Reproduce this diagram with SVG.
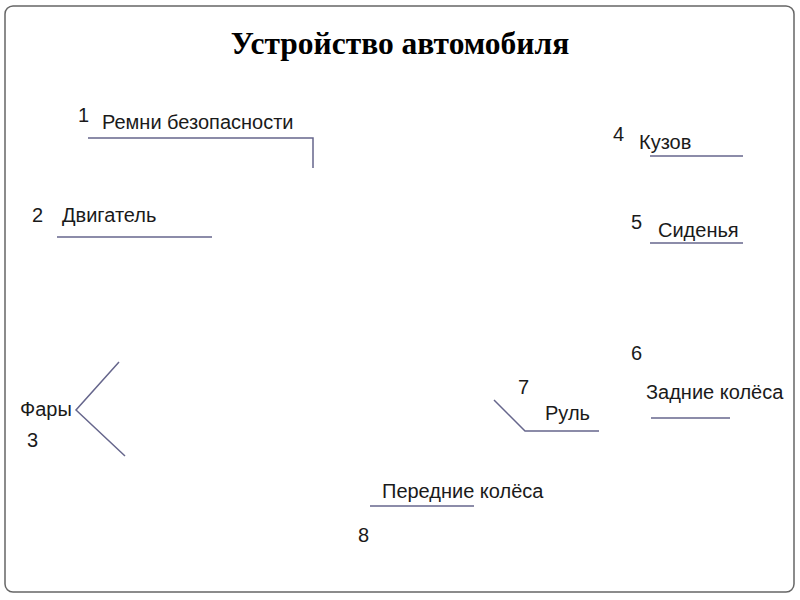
<svg xmlns="http://www.w3.org/2000/svg" width="800" height="600" viewBox="0 0 800 600">
<style>
.t{font-family:"Liberation Sans",Arial,sans-serif;font-size:20px;fill:#1a1a1a}
.n{font-family:"Liberation Sans",Arial,sans-serif;font-size:20px;fill:#1a1a1a}
.ttl{font-family:"Liberation Serif","Times New Roman",serif;font-size:31.5px;font-weight:bold;fill:#000}
.ln{fill:none;stroke:#66668c;stroke-width:1.5}
</style>
<rect x="5" y="6" width="789" height="586" rx="8" ry="8" fill="#fff" stroke="#666" stroke-width="1.5"/>
<text class="ttl" x="400" y="54" text-anchor="middle">Устройство автомобиля</text>
<g id="connectors">
<polyline class="ln" points="88,138 313,138 313,168"/>
<line class="ln" x1="57" y1="237" x2="212" y2="237"/>
<line class="ln" x1="650" y1="156" x2="743" y2="156"/>
<line class="ln" x1="650" y1="243" x2="743" y2="243"/>
<line class="ln" x1="651" y1="418" x2="730" y2="418"/>
<polyline class="ln" points="494,400 525,431 599,431"/>
<polyline class="ln" points="119,362 76,410 125,456"/>
<line class="ln" x1="370" y1="506" x2="474" y2="506"/>
</g>
<g id="node1"><text class="n" x="78" y="122">1</text><text class="t" x="102" y="129">Ремни безопасности</text></g>
<g id="node2"><text class="n" x="32" y="222">2</text><text class="t" x="62" y="222">Двигатель</text></g>
<g id="node3"><text class="t" x="20" y="416">Фары</text><text class="n" x="27" y="447">3</text></g>
<g id="node4"><text class="n" x="613" y="141">4</text><text class="t" x="639" y="149">Кузов</text></g>
<g id="node5"><text class="n" x="631" y="229">5</text><text class="t" x="658" y="237">Сиденья</text></g>
<g id="node6"><text class="n" x="631" y="360">6</text><text class="t" x="646" y="399">Задние колёса</text></g>
<g id="node7"><text class="n" x="518" y="394">7</text><text class="t" x="545" y="420">Руль</text></g>
<g id="node8"><text class="t" x="382" y="498">Передние колёса</text><text class="n" x="358" y="542">8</text></g>
</svg>
